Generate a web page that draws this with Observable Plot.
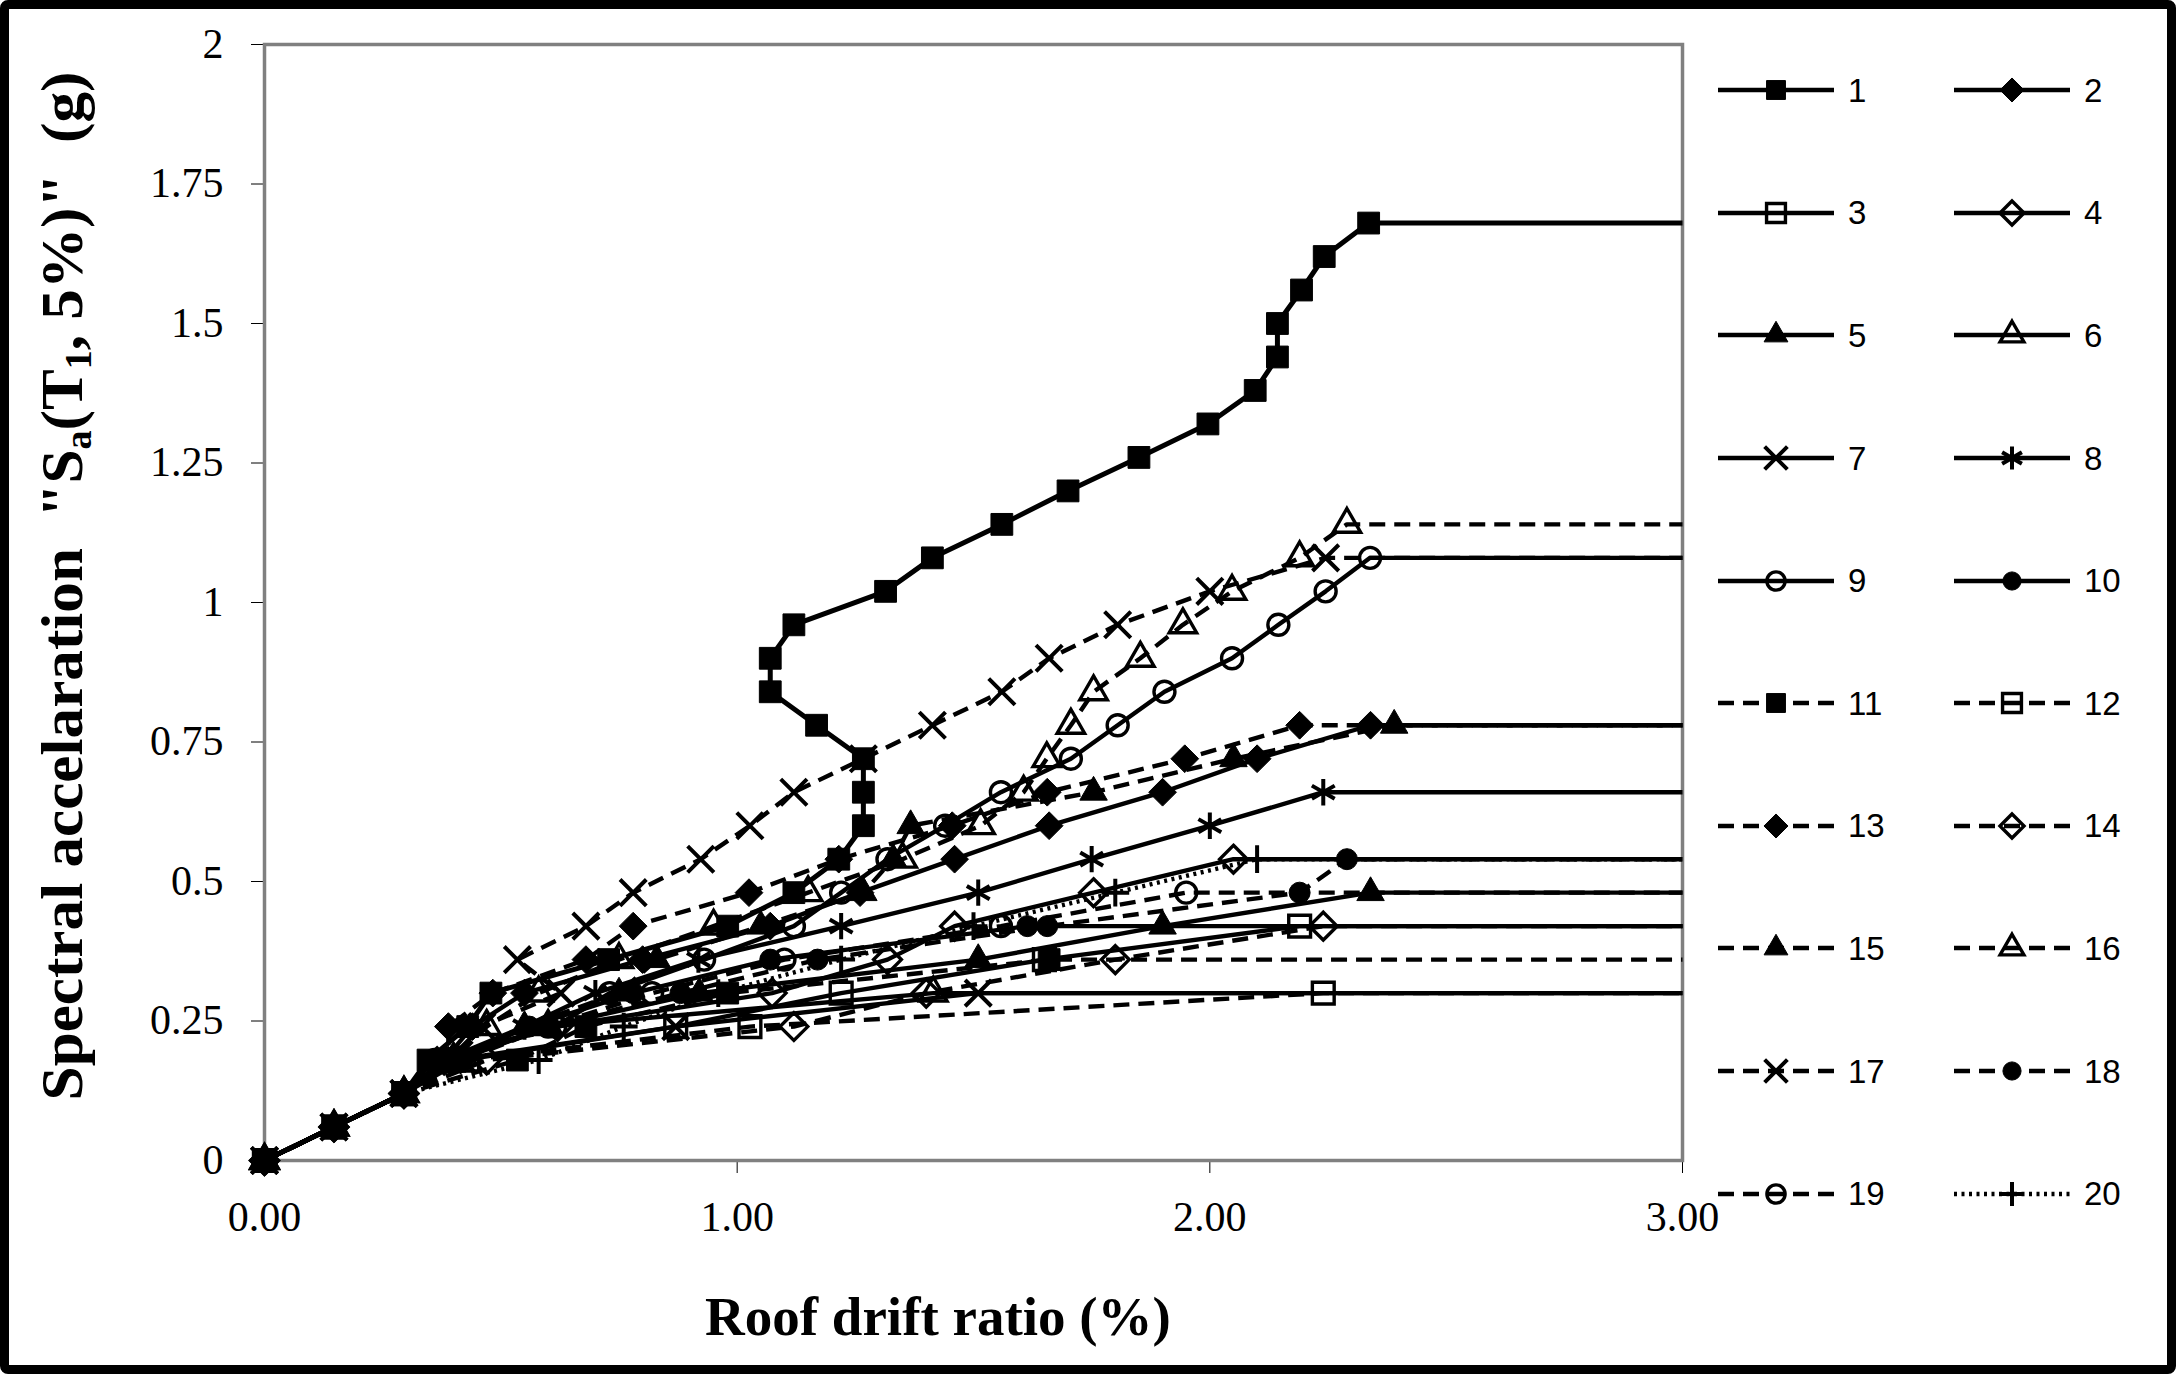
<!DOCTYPE html>
<html>
<head>
<meta charset="utf-8">
<script src="https://cdn.jsdelivr.net/npm/d3@7"></script>
<script src="https://cdn.jsdelivr.net/npm/@observablehq/plot@0.6"></script>
<style>
html,body{margin:0;padding:0;background:#fff;}
#fig{position:relative;width:2176px;height:1374px;overflow:hidden;background:#fff;}
#chart{position:absolute;left:0;top:0;}
#frameBorder{position:absolute;left:0;top:0;width:2176px;height:1374px;box-sizing:border-box;border:9px solid #000;border-radius:8px;pointer-events:none;}
.axlabel{position:absolute;font-family:"Liberation Serif","Times New Roman",serif;font-weight:bold;color:#000;white-space:nowrap;line-height:1;}
#xlabel{left:938px;top:1316px;font-size:55px;transform:translate(-50%,-50%);}
#ylabel{left:62px;top:586px;font-size:60px;transform:translate(-50%,-50%) rotate(-90deg) scaleX(1.02);}
.axlabel sub{font-size:0.62em;vertical-align:-0.25em;line-height:0;}
#legend{position:absolute;left:1716px;top:29px;display:grid;grid-template-columns:236px 236px;grid-auto-rows:122.6px;align-items:center;}
.lg{display:flex;align-items:center;}
.lg span{font-family:"Liberation Sans",Arial,sans-serif;font-size:33px;color:#000;margin-left:12px;line-height:1;}
</style>
</head>
<body>
<div id="fig">
  <div id="chart"></div>
  <div id="xlabel" class="axlabel">Roof drift ratio (%)</div>
  <div id="ylabel" class="axlabel">Spectral accelaration&nbsp;&nbsp;"S<sub>a</sub>(T<sub>1</sub>, 5%)"&nbsp;&nbsp;(g)</div>
  <div id="legend"></div>
  <div id="frameBorder"></div>
</div>
<script>
// ---- data (roof drift ratio %, Sa g) ----
const seriesNames = ["1","2","3","4","5","6","7","8","9","10","11","12","13","14","15","16","17","18","19","20"];
const xTicks = [0, 1, 2, 3];
const xTickLabels = ["0.00", "1.00", "2.00", "3.00"];
const yTicks = [0, 0.25, 0.5, 0.75, 1, 1.25, 1.5, 1.75, 2];
const yTickLabels = ["0", "0.25", "0.5", "0.75", "1", "1.25", "1.5", "1.75", "2"];
const flatlineDrift = 3.0; // collapse flat lines run to the right edge

const s1 = [[0,0],[0.147,0.06],[0.295,0.12],[0.346,0.18],[0.43,0.24],[0.479,0.30],[0.728,0.36],[0.98,0.42],[1.12,0.48],[1.215,0.54],[1.267,0.60],[1.267,0.66],[1.267,0.72],[1.168,0.78],[1.07,0.84],[1.07,0.90],[1.12,0.96],[1.314,1.02],[1.413,1.08],[1.56,1.14],[1.70,1.20],[1.85,1.26],[1.996,1.32],[2.096,1.38],[2.143,1.44],[2.143,1.50],[2.194,1.56],[2.242,1.62],[2.336,1.68]];
const s2 = [[0,0],[0.147,0.06],[0.295,0.12],[0.38,0.18],[0.44,0.24],[0.55,0.30],[0.80,0.36],[1.07,0.42],[1.26,0.48],[1.46,0.54],[1.66,0.60],[1.90,0.66],[2.10,0.72],[2.34,0.78]];
const s3 = [[0,0],[0.147,0.06],[0.295,0.12],[0.40,0.18],[0.87,0.24],[1.22,0.30],[1.65,0.36],[2.19,0.42]];
const s4 = [[0,0],[0.147,0.06],[0.295,0.12],[0.38,0.18],[0.62,0.24],[1.074,0.30],[1.318,0.36],[1.46,0.42],[1.754,0.48],[2.05,0.54]];
const s5 = [[0,0],[0.147,0.06],[0.295,0.12],[0.41,0.18],[0.60,0.24],[0.92,0.30],[1.51,0.36],[1.90,0.42],[2.34,0.48]];
const s6 = [[0,0],[0.147,0.06],[0.295,0.12],[0.40,0.18],[0.60,0.24],[1.415,0.30]];
const s7 = [[0,0],[0.147,0.06],[0.295,0.12],[0.42,0.18],[0.87,0.24],[1.51,0.30]];
const s8 = [[0,0],[0.147,0.06],[0.295,0.12],[0.38,0.18],[0.55,0.24],[0.70,0.30],[0.918,0.36],[1.22,0.42],[1.51,0.48],[1.75,0.54],[2.0,0.60],[2.24,0.66]];
const s9 = [[0,0],[0.147,0.06],[0.295,0.12],[0.36,0.18],[0.615,0.24],[0.73,0.30],[0.93,0.36],[1.12,0.42],[1.22,0.48],[1.318,0.54],[1.44,0.60],[1.558,0.66],[1.706,0.72],[1.805,0.78],[1.904,0.84],[2.047,0.90],[2.145,0.96],[2.245,1.02],[2.339,1.08]];
const s10 = [[0,0],[0.147,0.06],[0.295,0.12],[0.40,0.18],[0.56,0.24],[0.78,0.30],[1.07,0.36],[1.614,0.42]];
const s11 = [[0,0],[0.147,0.06],[0.295,0.12],[0.535,0.18],[0.68,0.24],[0.98,0.30],[1.66,0.36]];
const s12 = [[0,0],[0.147,0.06],[0.295,0.12],[0.43,0.18],[1.027,0.24],[2.24,0.30]];
const s13 = [[0,0],[0.147,0.06],[0.295,0.12],[0.389,0.18],[0.389,0.24],[0.483,0.30],[0.68,0.36],[0.78,0.42],[1.025,0.48],[1.215,0.54],[1.455,0.60],[1.656,0.66],[1.947,0.72],[2.19,0.78]];
const s14 = [[0,0],[0.147,0.06],[0.295,0.12],[0.47,0.18],[1.12,0.24],[1.40,0.30],[1.80,0.36],[2.24,0.42]];
const s15 = [[0,0],[0.147,0.06],[0.295,0.12],[0.40,0.18],[0.55,0.24],[0.75,0.30],[0.83,0.36],[1.05,0.42],[1.267,0.48],[1.33,0.54],[1.367,0.60],[1.754,0.66],[2.05,0.72],[2.39,0.78]];
const s16 = [[0,0],[0.147,0.06],[0.295,0.12],[0.40,0.18],[0.47,0.24],[0.58,0.30],[0.75,0.36],[0.95,0.42],[1.15,0.48],[1.35,0.54],[1.515,0.60],[1.606,0.66],[1.655,0.72],[1.706,0.78],[1.754,0.84],[1.853,0.90],[1.943,0.96],[2.047,1.02],[2.19,1.08],[2.29,1.14]];
const s17 = [[0,0],[0.147,0.06],[0.295,0.12],[0.39,0.18],[0.46,0.24],[0.627,0.30],[0.535,0.36],[0.68,0.42],[0.78,0.48],[0.923,0.54],[1.027,0.60],[1.12,0.66],[1.267,0.72],[1.413,0.78],[1.56,0.84],[1.66,0.90],[1.805,0.96],[2.0,1.02],[2.245,1.08]];
const s18 = [[0,0],[0.147,0.06],[0.295,0.12],[0.42,0.18],[0.60,0.24],[0.88,0.30],[1.17,0.36],[1.656,0.42],[2.19,0.48],[2.29,0.54]];
const s19 = [[0,0],[0.147,0.06],[0.295,0.12],[0.41,0.18],[0.60,0.24],[0.82,0.30],[1.10,0.36],[1.558,0.42],[1.95,0.48]];
const s20 = [[0,0],[0.147,0.06],[0.295,0.12],[0.58,0.18],[0.76,0.24],[0.96,0.30],[1.22,0.36],[1.50,0.42],[1.80,0.48],[2.10,0.54]];
const seriesData = [s1,s2,s3,s4,s5,s6,s7,s8,s9,s10,s11,s12,s13,s14,s15,s16,s17,s18,s19,s20];

// ---- styles ----
const lineKinds = ["solid","solid","solid","solid","solid","solid","solid","solid","solid","solid","dash","dash","dash","dash","dash","dash","dash","dash","dash","dot"];
const markerKinds = ["square","diamond2","square","diamond2","triangle","triangle","times","asterisk","circle","circle","square","square","diamond2","diamond2","triangle","triangle","times","circle","circle","plus"];
const markerFilled = [true,true,false,false,true,false,false,false,false,true,true,false,true,false,true,false,false,true,false,false];
const dashArray = {solid: null, dash: "16,9", dot: "3,4.5"};
const markerR = {square: 12.3, diamond2: 12.5, triangle: 10.2, circle: 10.5, times: 12, asterisk: 12.5, plus: 9};

function markerStyle(i) {
  const k = markerKinds[i];
  const strokeOnly = (k === "times" || k === "asterisk" || k === "plus");
  return {
    symbol: k,
    r: markerR[k],
    fill: strokeOnly ? "none" : (markerFilled[i] ? "#000" : "none"),
    stroke: "#000",
    strokeWidth: strokeOnly ? 4 : (markerFilled[i] ? 1 : 3.4)
  };
}

const marks = [Plot.frame({stroke: "#808080", strokeWidth: 3.5})];
seriesData.forEach((pts, i) => {
  const last = pts[pts.length - 1];
  const lineData = pts.concat([[flatlineDrift, last[1]]]);
  marks.push(Plot.line(lineData, {
    x: d => d[0], y: d => d[1],
    stroke: "#000", strokeWidth: i === 0 ? 5 : 4.4,
    strokeDasharray: dashArray[lineKinds[i]],
    strokeLinecap: "butt",
    strokeLinejoin: "round"
  }));
  marks.push(Plot.dot(pts, {x: d => d[0], y: d => d[1], ...markerStyle(i)}));
});

const chart = Plot.plot({
  width: 1770,
  height: 1374,
  marginLeft: 264,
  marginRight: 88,
  marginTop: 44,
  marginBottom: 214,
  style: {fontFamily: '"Liberation Serif", "Times New Roman", serif', fontSize: "42px", color: "#000", background: "transparent", overflow: "visible"},
  x: {domain: [0, 3], ticks: xTicks, tickFormat: d => xTickLabels[xTicks.indexOf(d)], tickSize: 13, tickPadding: 28, label: null},
  y: {domain: [0, 2], ticks: yTicks, tickFormat: d => yTickLabels[yTicks.indexOf(d)], tickSize: 13, tickPadding: 28, label: null},
  marks
});
document.getElementById("chart").appendChild(chart);

// ---- legend (outside the plot SVG) ----
const legend = d3.select("#legend");
const symMap = {square: d3.symbolSquare, diamond2: d3.symbolDiamond2, triangle: d3.symbolTriangle, circle: d3.symbolCircle, times: d3.symbolTimes, asterisk: d3.symbolAsterisk, plus: d3.symbolPlus};
seriesNames.forEach((name, i) => {
  const cell = legend.append("div").attr("class", "lg");
  const svg = cell.append("svg").attr("width", 120).attr("height", 40);
  svg.append("line").attr("x1", 2).attr("x2", 118).attr("y1", 20).attr("y2", 20)
    .attr("stroke", "#000").attr("stroke-width", 4.4)
    .attr("stroke-dasharray", dashArray[lineKinds[i]]);
  const ms = markerStyle(i);
  svg.append("path").attr("transform", "translate(60,20)")
    .attr("d", d3.symbol(symMap[ms.symbol], Math.PI * ms.r * ms.r * 0.75)())
    .attr("fill", ms.fill).attr("stroke", ms.stroke).attr("stroke-width", ms.strokeWidth);
  cell.append("span").text(name);
});
</script>
</body>
</html>
